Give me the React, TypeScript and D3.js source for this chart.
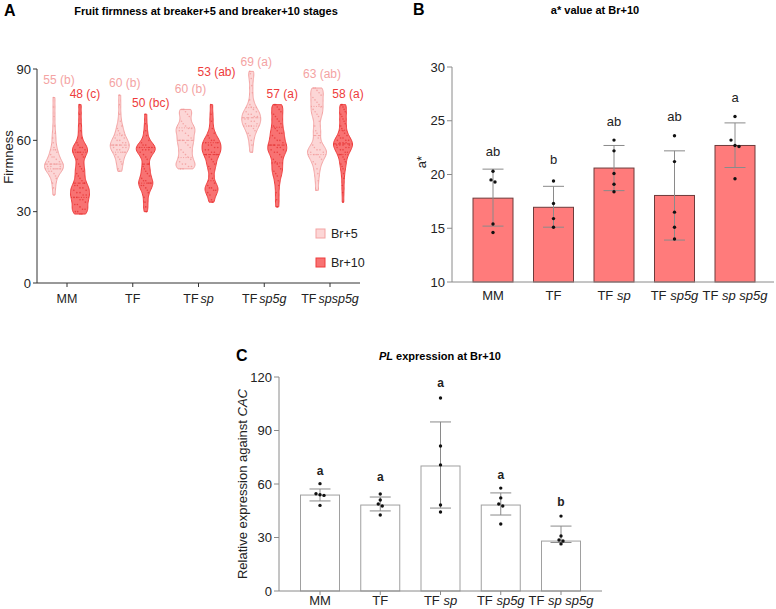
import React from "react";
import * as d3 from "d3";

const FONT = "'Liberation Sans', Arial, Helvetica, sans-serif";

// ---- panel A: firmness, raw fruit values
const genotypes = ["MM", "TF", "TF sp", "TF sp5g", "TF sp sp5g"];
const stages = ["Br+5", "Br+10"];
const firmBr5: number[][] = [
  [78, 74, 70, 66, 63, 61, 59, 57, 56, 55, 54, 53, 53, 52, 51, 51, 50, 50, 50, 49, 49, 49, 48, 48, 48, 47, 47, 46, 45, 44, 42, 40, 37],
  [79, 75, 71, 68, 66, 65, 64, 63, 62, 61, 61, 60, 60, 59, 59, 58, 58, 58, 57, 57, 57, 56, 56, 55, 55, 54, 53, 52, 51, 50, 48, 47],
  [73, 73, 72, 71, 70, 68, 67, 66, 65, 65, 64, 64, 63, 62, 61, 60, 60, 59, 58, 57, 56, 55, 54, 53, 52, 51, 50, 50, 49, 49, 48, 48],
  [89, 88, 86, 83, 80, 77, 75, 74, 73, 72, 72, 71, 71, 70, 70, 69, 69, 68, 68, 67, 67, 66, 66, 65, 64, 63, 62, 60, 58, 55],
  [82, 82, 81, 80, 79, 78, 77, 76, 75, 74, 73, 72, 71, 70, 68, 66, 64, 63, 61, 59, 58, 57, 56, 56, 55, 55, 54, 54, 53, 52, 51, 50, 48, 46, 43, 39],
];
const firmBr10: number[][] = [
  [75, 71, 67, 64, 61, 59, 58, 57, 57, 56, 56, 55, 55, 54, 53, 52, 50, 49, 48, 47, 46, 45, 44, 43, 42, 41, 41, 40, 40, 39, 39, 38, 38, 37, 37, 36, 36, 35, 35, 34, 33, 33, 32, 31, 31, 30, 30, 29, 29],
  [71, 67, 64, 62, 60, 59, 58, 58, 57, 57, 57, 56, 56, 56, 55, 55, 54, 53, 52, 50, 49, 48, 47, 46, 45, 44, 43, 43, 42, 42, 41, 41, 40, 39, 38, 36, 34, 32, 30],
  [75, 71, 68, 65, 63, 62, 61, 60, 60, 59, 59, 58, 58, 57, 57, 56, 56, 55, 55, 54, 54, 53, 52, 51, 50, 49, 48, 46, 44, 42, 41, 40, 40, 39, 39, 38, 37, 35, 34],
  [75, 75, 74, 73, 72, 71, 70, 69, 68, 67, 66, 65, 64, 63, 63, 62, 61, 60, 60, 59, 58, 58, 57, 57, 56, 56, 55, 55, 54, 53, 52, 51, 50, 49, 48, 47, 46, 45, 43, 41, 38, 35, 32],
  [75, 75, 74, 73, 72, 71, 70, 69, 68, 67, 66, 65, 64, 63, 62, 62, 61, 61, 60, 60, 60, 59, 59, 59, 58, 58, 58, 58, 57, 57, 57, 56, 56, 55, 55, 54, 54, 53, 52, 51, 50, 49, 48, 46, 44, 41, 38, 34],
];
const meanLabelsBr5 = ["55 (b)", "60 (b)", "60 (b)", "69 (a)", "63 (ab)"];
const meanLabelsBr10 = ["48 (c)", "50 (bc)", "53 (ab)", "57 (a)", "58 (a)"];
const labelYBr5 = [85.4, 84.1, 81.6, 92.9, 87.9];
const labelYBr10 = [79.5, 75.7, 88.7, 79.5, 79.5];
const firmTicks = [0, 30, 60, 90];

// ---- panel B: a* at Br+10
const aStarMean = [17.8, 16.95, 20.6, 18.05, 22.7];
const aStarLo = [15.2, 15.1, 18.5, 13.9, 20.65];
const aStarHi = [20.5, 18.9, 22.7, 22.2, 24.8];
const aStarPoints = [
  [20.3, 19.5, 19.3, 15.4, 14.6],
  [19.4, 17.3, 15.9, 15.1],
  [23.2, 22.2, 20.1, 19.1, 18.4],
  [23.6, 21.2, 16.5, 15.1, 14.0],
  [25.4, 23.2, 22.7, 22.6, 19.6],
];
const aStarLetters = ["ab", "b", "ab", "ab", "a"];
const aStarLetterY = [22.1, 21.4, 24.9, 25.4, 27.2];
const aStarTicks = [10, 15, 20, 25, 30];

// ---- panel C: PL expression
const plMean = [53.8, 48.2, 70.1, 48.2, 28.0];
const plLo = [50.5, 44.9, 46.5, 42.6, 27.2];
const plHi = [57.2, 52.7, 94.8, 55.0, 36.4];
const plPoints = [
  [60.2, 54.5, 54.0, 53.6, 48.0],
  [54.4, 51.0, 48.8, 47.7, 42.6],
  [108.2, 81.3, 70.7, 48.2, 44.3],
  [57.7, 52.2, 48.8, 47.7, 37.6],
  [42.0, 30.8, 28.6, 28.0, 26.4],
];
const plLetters = ["a", "a", "a", "a", "b"];
const plLetterY = [67.3, 63.9, 116.6, 65, 50];
const plTicks = [0, 30, 60, 90, 120];

// colours
const c5Fill = "#fcd6d6";
const c5Line = "#f4a3a3";
const c10Fill = "#f87272";
const c10Line = "#ee3c3c";

// spread points that sit close together
function dodge(vals: number[], thr: number, step: number) {
  const idx = vals.map((_, i) => i).sort((a, b) => vals[b] - vals[a]);
  const off = new Array(vals.length).fill(0);
  let cluster: number[] = [];
  const flush = () => {
    cluster.forEach((k, j) => (off[k] = (j - (cluster.length - 1) / 2) * step));
    cluster = [];
  };
  idx.forEach((k) => {
    if (cluster.length && vals[cluster[cluster.length - 1]] - vals[k] > thr) flush();
    cluster.push(k);
  });
  flush();
  return off;
}

const kde = (vals: number[], bw: number) => (y: number) =>
  d3.sum(vals, (v) => Math.exp(-0.5 * ((y - v) / bw) ** 2));

function GenoLabel({ name, x, y, gap = " ", size = 12.5 }: any) {
  const [head, ...rest] = name.split(" ");
  const tail = rest.join(gap);
  return (
    <text x={x} y={y} textAnchor="middle" fontSize={size} fill="#222" fontFamily={FONT}>
      {head}
      {tail && (
        <tspan fontStyle="italic" dx={gap === "" ? 2 : 0}>
          {gap}
          {tail}
        </tspan>
      )}
    </text>
  );
}

function Violin({ vals, cx, y, fill, line, dot }: any) {
  const f = kde(vals, 1.9);
  const lo = d3.min(vals) as number;
  const hi = d3.max(vals) as number;
  const grid = d3.range(lo, hi, 0.5).concat([hi]);
  const maxD = d3.max(grid, f) as number;
  const w = (v: number) => (f(v) / maxD) * 9.5;
  const area = d3
    .area<number>()
    .y((v) => y(v))
    .x0((v) => cx - w(v))
    .x1((v) => cx + w(v))
    .curve(d3.curveCatmullRom);
  const sorted = [...vals].sort(d3.ascending);
  const med = d3.quantile(sorted, 0.5) as number;
  const q1 = d3.quantile(sorted, 0.25) as number;
  const q3 = d3.quantile(sorted, 0.75) as number;
  return (
    <g>
      <path d={area(grid) as string} fill={fill} stroke={line} strokeWidth={1} />
      {vals.map((v: number, i: number) => (
        <circle key={i} cx={cx + ((i % 5) - 2) * w(v) * 0.33} cy={y(v)} r={0.8} fill={dot} opacity={0.8} />
      ))}
      <line x1={cx - w(med)} x2={cx + w(med)} y1={y(med)} y2={y(med)} stroke={dot} strokeWidth={0.9} strokeDasharray="3,1.5" />
      {[q1, q3].map((q, i) => (
        <line key={i} x1={cx - w(q)} x2={cx + w(q)} y1={y(q)} y2={y(q)} stroke={dot} strokeWidth={0.9} strokeDasharray="1,1.5" />
      ))}
    </g>
  );
}

function PanelA() {
  const y = d3.scaleLinear().domain([0, 90]).range([283, 69]);
  const x = d3.scalePoint<string>().domain(genotypes).range([67, 330]);
  const off = 13;
  return (
    <g fontFamily={FONT}>
      <text x={4} y={16} fontSize={16} fontWeight="bold">A</text>
      <text x={206} y={15} fontSize={11} fontWeight="bold" textAnchor="middle">
        Fruit firmness at breaker+5 and breaker+10 stages
      </text>
      <text transform="translate(13,157) rotate(-90)" textAnchor="middle" fontSize={13} fill="#222">Firmness</text>
      <line x1={37} x2={37} y1={69} y2={283} stroke="#333" />
      <line x1={37} x2={360} y1={283} y2={283} stroke="#333" />
      {firmTicks.map((t) => (
        <g key={t}>
          <line x1={33} x2={37} y1={y(t)} y2={y(t)} stroke="#333" />
          <text x={31} y={y(t)} dy="0.35em" textAnchor="end" fontSize={13} fill="#222">{t}</text>
        </g>
      ))}
      {genotypes.map((g, i) => {
        const cx = x(g) as number;
        return (
          <g key={g}>
            <line x1={cx} x2={cx} y1={283} y2={287} stroke="#333" />
            <GenoLabel name={g} x={cx} y={303} gap="" />
            <Violin vals={firmBr5[i]} cx={cx - off} y={y} fill={c5Fill} line={c5Line} dot="#f19a9a" />
            <Violin vals={firmBr10[i]} cx={cx + off} y={y} fill={c10Fill} line={c10Line} dot="#e53434" />
            <text x={cx - off + 5} y={y(labelYBr5[i])} dy="0.35em" textAnchor="middle" fontSize={12} fill={c5Line}>
              {meanLabelsBr5[i]}
            </text>
            <text x={cx + off + 5} y={y(labelYBr10[i])} dy="0.35em" textAnchor="middle" fontSize={12} fill={c10Line}>
              {meanLabelsBr10[i]}
            </text>
          </g>
        );
      })}
      {stages.map((s, i) => (
        <g key={s}>
          <rect x={316} y={229 + i * 29} width={9} height={9} fill={i ? c10Fill : c5Fill} stroke={i ? c10Line : c5Line} />
          <text x={331} y={233.5 + i * 29} dy="0.35em" fontSize={12.5} fill="#222">{s}</text>
        </g>
      ))}
    </g>
  );
}

function BarPanel({ title, letter, mean, lo, hi, pts, letters, letterY, ticks, yDomain, yRange, xRange, axisX, axisEnd, barW, fill, stroke, ylabel, letterBold, titleX, titleY, letterX, xLabelY, xTicks, dodgeThr }: any) {
  const y = d3.scaleLinear().domain(yDomain).range(yRange);
  const x = d3.scalePoint<string>().domain(genotypes).range(xRange);
  const base = yRange[0];
  return (
    <g fontFamily={FONT}>
      <text x={letterX} y={titleY + 1} fontSize={16} fontWeight="bold">{letter}</text>
      <text x={titleX} y={titleY} fontSize={11} fontWeight="bold" textAnchor="middle">{title}</text>
      {ylabel}
      {genotypes.map((g, i) => {
        const cx = x(g) as number;
        const offs = dodge(pts[i], dodgeThr, 4);
        return (
          <g key={g}>
            <rect x={cx - barW / 2} y={y(mean[i])} width={barW} height={base - y(mean[i])} fill={fill} stroke={stroke} strokeWidth={1} />
            <g stroke="#8a8a8a" strokeWidth={1}>
              <line x1={cx} x2={cx} y1={y(lo[i])} y2={y(hi[i])} />
              <line x1={cx - 10.5} x2={cx + 10.5} y1={y(hi[i])} y2={y(hi[i])} />
              <line x1={cx - 10.5} x2={cx + 10.5} y1={y(lo[i])} y2={y(lo[i])} />
            </g>
            {pts[i].map((v: number, k: number) => (
              <circle key={k} cx={cx + offs[k]} cy={y(v)} r={1.7} fill="#111" />
            ))}
            <text x={cx} y={y(letterY[i])} dy="0.35em" textAnchor="middle" fontSize={letterBold ? 12 : 13} fontWeight={letterBold ? "bold" : "normal"} fill="#222">
              {letters[i]}
            </text>
            {xTicks && <line x1={cx} x2={cx} y1={base} y2={base + 4} stroke="#8a8a8a" />}
            <GenoLabel name={g} x={cx} y={xLabelY} size={13} />
          </g>
        );
      })}
      <line x1={axisX} x2={axisX} y1={yRange[1]} y2={base} stroke="#8a8a8a" />
      <line x1={axisX} x2={axisEnd} y1={base} y2={base} stroke="#8a8a8a" />
      {ticks.map((t: number) => (
        <g key={t}>
          <line x1={axisX - 5} x2={axisX} y1={y(t)} y2={y(t)} stroke="#8a8a8a" />
          <text x={axisX - 7} y={y(t)} dy="0.35em" textAnchor="end" fontSize={13} fill="#222">{t}</text>
        </g>
      ))}
    </g>
  );
}

export default function App() {
  return (
    <svg width={776} height={609} style={{ position: "absolute", left: 0, top: 0, background: "#fff" }}>
      <rect width={776} height={609} fill="#fff" />
      <PanelA />
      <BarPanel
        letter="B"
        letterX={413}
        title="a* value at Br+10"
        titleX={595}
        titleY={14}
        mean={aStarMean}
        lo={aStarLo}
        hi={aStarHi}
        pts={aStarPoints}
        letters={aStarLetters}
        letterY={aStarLetterY}
        ticks={aStarTicks}
        yDomain={[10, 30]}
        yRange={[282, 67]}
        xRange={[493, 735]}
        axisX={452}
        axisEnd={774}
        barW={40}
        fill="#ff7b7b"
        stroke="#6e3b3b"
        dodgeThr={0.5}
        xLabelY={300}
        xTicks={false}
        ylabel={<text transform="translate(426,162) rotate(-90)" textAnchor="middle" fontSize={13} fill="#222">a*</text>}
      />
      <BarPanel
        letter="C"
        letterX={236}
        title={<><tspan fontStyle="italic">PL</tspan> expression at Br+10</>}
        titleX={440}
        titleY={360}
        mean={plMean}
        lo={plLo}
        hi={plHi}
        pts={plPoints}
        letters={plLetters}
        letterY={plLetterY}
        ticks={plTicks}
        yDomain={[0, 120]}
        yRange={[591, 377]}
        xRange={[320, 561]}
        axisX={279}
        axisEnd={602}
        barW={39}
        fill="#fff"
        stroke="#a0a0a0"
        dodgeThr={1.5}
        letterBold
        xLabelY={605}
        xTicks
        ylabel={
          <text transform="translate(247,484) rotate(-90)" textAnchor="middle" fontSize={13} fill="#222">
            Relative expression against <tspan fontStyle="italic">CAC</tspan>
          </text>
        }
      />
    </svg>
  );
}
